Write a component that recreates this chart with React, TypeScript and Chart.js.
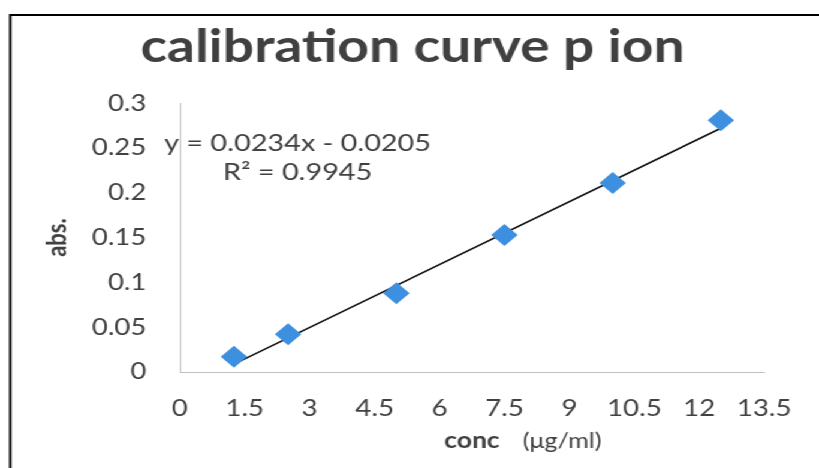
import React, { useEffect, useRef } from "react";
import { Chart, registerables } from "chart.js";

Chart.register(...registerables);

// ---- data ----
const concValues = [1.25, 2.5, 5, 7.5, 10, 12.5];
const absValues = [0.017, 0.042, 0.088, 0.153, 0.211, 0.281];
const xTicks = [0, 1.5, 3, 4.5, 6, 7.5, 9, 10.5, 12, 13.5];
const yTicks = [0, 0.05, 0.1, 0.15, 0.2, 0.25, 0.3];
const trendSlope = 0.0234;
const trendIntercept = -0.0205;
const trendRange = [1.25, 12.5];
const chartTitle = "calibration curve p ion";
const yAxisTitle = "abs.";
const xAxisTitle = "conc";
const xAxisUnit = "(μg/ml)";
const equationText = "y = 0.0234x - 0.0205";
const r2Text = "R² = 0.9945";

// ---- look ----
const PAGE_W = 819;
const PAGE_H = 468;
const LOGICAL_W = 683;
const STRETCH = PAGE_W / LOGICAL_W;
const FONT = "Lato";
const TEXT = "#404040";
const POINT = "#3d8fdf";
const PAD_LEFT = 48;

const decorPlugin = {
  id: "decor",
  beforeDraw(chart: any) {
    const ctx = chart.ctx;
    ctx.save();
    ctx.fillStyle = "#ffffff";
    ctx.fillRect(0, 0, chart.width, chart.height);
    ctx.strokeStyle = "#000000";
    ctx.lineWidth = 2;
    ctx.beginPath();
    ctx.moveTo(8.5, chart.height);
    ctx.lineTo(8.5, 15);
    ctx.lineTo(chart.width, 15);
    ctx.stroke();
    ctx.restore();
  },
  afterDraw(chart: any) {
    const ctx = chart.ctx;
    const xs = chart.scales.x;
    const ys = chart.scales.y;
    ctx.save();
    ctx.fillStyle = TEXT;
    ctx.textAlign = "center";
    ctx.textBaseline = "middle";
    ctx.font = `24px ${FONT}`;
    ctx.fillText(equationText, xs.getPixelForValue(2.72), ys.getPixelForValue(0.2555));
    ctx.fillText(r2Text, xs.getPixelForValue(2.72), ys.getPixelForValue(0.2225));
    ctx.textAlign = "left";
    ctx.font = `21px ${FONT}`;
    ctx.fillText(xAxisUnit, 436, 441);
    ctx.restore();
  },
};

export default function App() {
  const canvasRef = useRef<HTMLCanvasElement | null>(null);

  useEffect(() => {
    const canvas = canvasRef.current;
    if (!canvas) return;
    const points = concValues.map((x, i) => ({ x, y: absValues[i] }));
    const trend = trendRange.map((x) => ({ x, y: trendSlope * x + trendIntercept }));
    const chart = new Chart(canvas, {
      type: "scatter",
      data: {
        datasets: [
          {
            type: "line",
            label: "trend",
            data: trend,
            borderColor: "#111111",
            borderWidth: 1.6,
            pointRadius: 0,
            fill: false,
            order: 2,
          },
          {
            label: "abs",
            data: points,
            pointStyle: "rectRot",
            pointRadius: 11,
            backgroundColor: POINT,
            borderColor: POINT,
            borderWidth: 0,
            order: 1,
          },
        ],
      },
      options: {
        animation: false,
        responsive: true,
        maintainAspectRatio: false,
        layout: { padding: { left: PAD_LEFT, right: LOGICAL_W - 640, top: 0, bottom: 0 } },
        plugins: {
          legend: { display: false },
          tooltip: { enabled: false },
          title: {
            display: true,
            text: chartTitle,
            color: TEXT,
            font: { family: FONT, size: 46, weight: "bold" },
            padding: { top: 20, bottom: 28 },
          },
        },
        scales: {
          x: {
            type: "linear",
            min: 0,
            max: 13.5,
            afterBuildTicks: (scale: any) => {
              scale.ticks = xTicks.map((v) => ({ value: v }));
            },
            afterFit: (scale: any) => {
              scale.height = PAGE_H - 372;
            },
            grid: { display: false, drawTicks: false },
            border: { display: true, color: "#c0c0c0", width: 1 },
            ticks: {
              color: TEXT,
              padding: 23,
              autoSkip: false,
              maxRotation: 0,
              font: { family: FONT, size: 23 },
              callback: (v: any) => String(v),
            },
            title: {
              display: true,
              text: xAxisTitle,
              color: TEXT,
              font: { family: FONT, size: 22, weight: "bold" },
              padding: { top: 0, bottom: 14 },
            },
          },
          y: {
            type: "linear",
            min: 0,
            max: 0.3,
            afterBuildTicks: (scale: any) => {
              scale.ticks = yTicks.map((v) => ({ value: v }));
            },
            afterFit: (scale: any) => {
              scale.width = 150 - PAD_LEFT;
            },
            grid: { display: false, drawTicks: false },
            border: { display: true, color: "#c0c0c0", width: 1 },
            ticks: {
              color: TEXT,
              padding: 28,
              font: { family: FONT, size: 23 },
              callback: (v: any) => String(Number(Number(v).toFixed(2))),
            },
            title: {
              display: true,
              text: yAxisTitle,
              color: TEXT,
              font: { family: FONT, size: 22, weight: "bold" },
              padding: { top: -13, bottom: 0 },
            },
          },
        },
      },
      plugins: [decorPlugin],
    });
    return () => chart.destroy();
  }, []);

  return (
    <div
      style={{
        position: "fixed",
        left: 0,
        top: 0,
        width: LOGICAL_W,
        height: PAGE_H,
        transform: `scaleX(${STRETCH})`,
        transformOrigin: "0 0",
        background: "#ffffff",
      }}
    >
      <canvas ref={canvasRef} style={{ width: "100%", height: "100%" }} />
    </div>
  );
}
